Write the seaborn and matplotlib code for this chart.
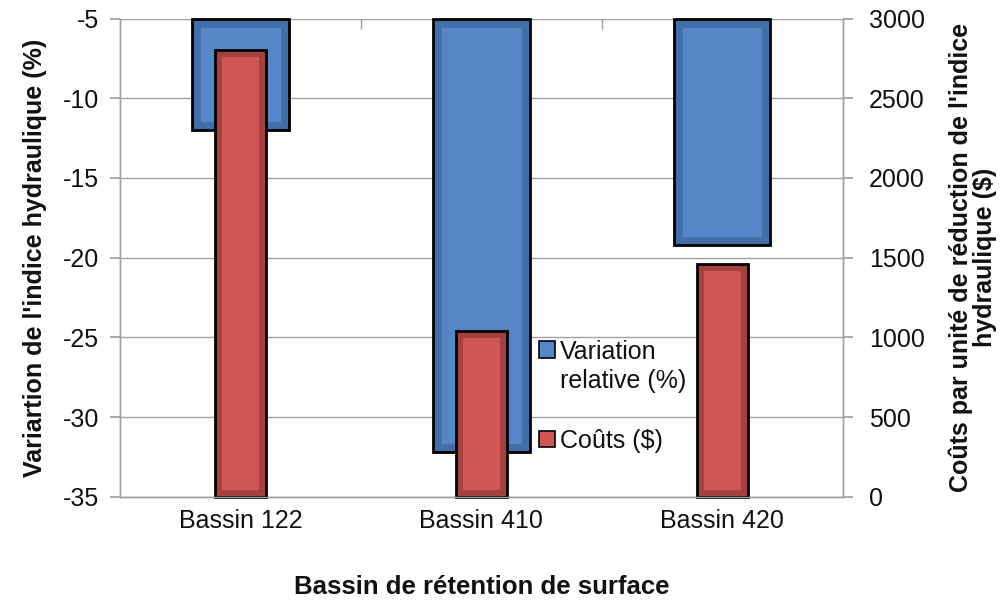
import matplotlib
matplotlib.use("Agg")
import matplotlib.pyplot as plt
import seaborn as sns
from matplotlib.patches import Rectangle, Patch
from matplotlib.ticker import FixedLocator
from matplotlib.legend_handler import HandlerPatch

# Data
bassins = ["Bassin 122", "Bassin 410", "Bassin 420"]
variation = [-12.0, -32.2, -19.2]          # relative change (%)
couts = [2800, 1040, 1460]                 # cost per unit of reduction ($)
left_ticks = [-35, -30, -25, -20, -15, -10, -5]
right_ticks = [0, 500, 1000, 1500, 2000, 2500, 3000]

BLUE, BLUE_BAND = "#5586C6", "#426FA8"
RED, RED_BAND = "#D05555", "#A54040"
GRID = "#A0A0A0"
TXT = "#111111"

sns.set_theme(style="white")
plt.rcParams["font.family"] = ["Liberation Sans", "DejaVu Sans"]
plt.rcParams["axes.unicode_minus"] = False

fig = plt.figure(figsize=(10.08, 6), dpi=100)
fig.patch.set_facecolor("white")
ax = fig.add_axes([0.119, 0.172, 0.717, 0.797])

sns.barplot(x=bassins, y=variation, ax=ax, color=BLUE, saturation=1,
            width=0.40, linewidth=0)
ax.set_ylim(left_ticks[0], left_ticks[-1])
ax.set_yticks(left_ticks)

# bars hang from the top of the value axis
top = ax.get_ylim()[1]
for p in ax.patches:
    end = p.get_y() + p.get_height()
    p.set_y(top)
    p.set_height(end - top)

ax2 = ax.twinx()
sns.barplot(x=bassins, y=couts, ax=ax2, color=RED, saturation=1,
            width=0.21, linewidth=0)
ax2.set_ylim(right_ticks[0], right_ticks[-1])
ax2.set_yticks(right_ticks)


def bevel(axis, band, band_lw):
    for p in list(axis.patches):
        geom = dict(xy=(p.get_x(), p.get_y()), width=p.get_width(),
                    height=p.get_height(), transform=axis.transData,
                    fill=False)
        inner = Rectangle(**geom, edgecolor=band, linewidth=band_lw,
                          zorder=p.get_zorder() + 0.1)
        axis.add_patch(inner)
        inner.set_clip_path(p)
        edge = Rectangle(**geom, edgecolor="black", linewidth=2,
                         zorder=p.get_zorder() + 0.2, clip_on=False)
        axis.add_patch(edge)


bevel(ax, BLUE_BAND, 12)
bevel(ax2, RED_BAND, 10)

# grid and spines
ax.yaxis.grid(True, color=GRID, linewidth=1)
ax.xaxis.grid(False)
ax.set_axisbelow(True)
for a in (ax, ax2):
    for side in ("left", "right", "bottom"):
        a.spines[side].set_color(GRID)
        a.spines[side].set_linewidth(1)
    a.spines["top"].set_visible(False)

ax.tick_params(axis="y", which="major", left=True, direction="out",
               length=7, color=GRID, labelsize=18, pad=8, labelcolor=TXT)
ax2.tick_params(axis="y", which="major", right=True, direction="out",
                length=7, color=GRID, labelsize=18, pad=12, labelcolor=TXT)
ax.tick_params(axis="x", which="major", bottom=False, labelsize=18, pad=3,
               labelcolor=TXT)
ax.xaxis.set_minor_locator(FixedLocator([0.5, 1.5]))
ax.tick_params(axis="x", which="minor", top=True, bottom=False,
               direction="in", length=7, color=GRID)

ax.set_xlabel("Bassin de rétention de surface", fontsize=18.5,
              fontweight="bold", labelpad=30, color=TXT)
ax.set_ylabel("Variartion de l'indice hydraulique (%)", fontsize=18,
              fontweight="bold", labelpad=11, color=TXT)
ax2.set_ylabel("Coûts par unité de réduction de l'indice\nhydraulique ($)",
               fontsize=18, fontweight="bold", labelpad=17, linespacing=1.0,
               color=TXT)


def raised_square(legend, orig_handle, xdescent, ydescent, width, height,
                  fontsize):
    # square aligned with the first line of a two-line label
    return Rectangle((-xdescent, -ydescent + 0.7 * fontsize), width, height)


blue_handle = Patch(facecolor=BLUE, edgecolor="black", linewidth=1.2)
red_handle = Patch(facecolor=RED, edgecolor="black", linewidth=1.2)
leg = ax2.legend([blue_handle, red_handle],
                 ["Variation\nrelative (%)", "Coûts ($)"],
                 loc="upper left", bbox_to_anchor=(0.58, 0.328),
                 frameon=False, fontsize=18, handlelength=0.62,
                 handleheight=0.62, handletextpad=0.2, labelspacing=1.45,
                 borderaxespad=0, borderpad=0,
                 handler_map={blue_handle: HandlerPatch(patch_func=raised_square)})
for t in leg.get_texts():
    t.set_linespacing(1.25)
    t.set_color(TXT)

fig.savefig("out.png", dpi=100, facecolor="white")
